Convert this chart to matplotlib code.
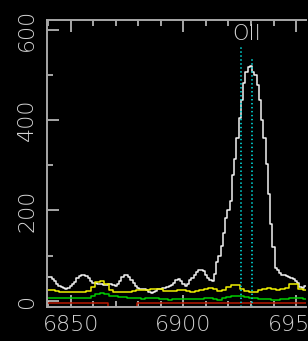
import numpy as np
import matplotlib
matplotlib.use("Agg")
import matplotlib.pyplot as plt
from matplotlib.ticker import MultipleLocator

# wavelength grids (Angstrom)
wave_fine = np.arange(6840, 6957, 1)
wave_coarse = np.arange(6840, 6957, 2)

# object spectrum (white)
flux = [
    53, 52, 49, 44, 38, 33, 30, 28, 27, 28,
    33, 38, 42, 50, 55, 58, 58, 55, 50, 44,
    40, 39, 38, 37, 36, 34, 35, 36, 36, 35,
    33, 36, 44, 52, 57, 56, 52, 46, 40, 33,
    28, 26, 25, 25, 24, 20, 18, 19, 21, 25,
    27, 28, 29, 30, 32, 35, 40, 45, 48, 43,
    38, 33, 38, 45, 50, 56, 63, 69, 69, 65,
    58, 50, 45, 43, 60, 85, 100, 122, 150, 184,
    200, 222, 278, 315, 360, 404, 444, 482, 507, 518,
    520, 507, 500, 478, 444, 400, 360, 304, 237, 171,
    118, 73, 67, 62, 58, 56, 54, 52, 50, 47,
    44, 40, 30, 29, 33, 33, 33,
]

# sky (yellow) and noise (green), 2 A steps
sky = [
    24, 23, 21, 20, 20, 20, 20, 20, 20, 21,
    30, 42, 44, 38, 24, 20, 20, 20, 20, 21,
    23, 24, 24, 26, 26, 25, 22, 21, 22, 24,
    24, 22, 20, 21, 24, 26, 29, 27, 22, 24,
    30, 35, 34, 27, 21, 20, 20, 23, 27, 28,
    26, 24, 26, 29, 36, 36, 27, 24, 23,
]
noise = [
    6, 6, 6, 6, 6, 6, 6, 6, 6, 6,
    10, 14, 16, 14, 11, 10, 9, 8, 7, 6,
    5, 4, 5, 5, 5, 4, 3, 2, 3, 4,
    4, 4, 4, 4, 4, 5, 5, 3, 2, 5,
    9, 11, 11, 10, 8, 7, 5, 4, 4, 3,
    2, 2, 3, 4, 5, 6, 5, 3, 3,
]

# bad-pixel mask (red)
mask_edges = [6839, 6866.5, 6879.5, 6956]
mask_levels = [-4, -300, -4, -4]

# [OII] doublet
line_waves = [6925.4, 6930.6]
line_tops = [567, 536]
line_name = "OII"

fg = "#d4d4d4"
fig = plt.figure(figsize=(3.08, 3.41), dpi=100, facecolor="black")
ax = fig.add_axes([47 / 308, 33.7 / 341, 259 / 308, 287.3 / 341], facecolor="black")

ax.plot(wave_fine, flux, color="#f2f2f2", lw=1.1, drawstyle="steps-mid")
ax.plot(wave_coarse, sky, color="#f0f000", lw=1.1, drawstyle="steps-mid")
ax.plot(wave_coarse, noise, color="#00cc00", lw=1.1, drawstyle="steps-mid")
ax.plot(mask_edges, mask_levels, color="#b81800", lw=1.1, drawstyle="steps-post")

for w, top in zip(line_waves, line_tops):
    ax.plot([w, w], [-15, top], color="#00c8c8", lw=1.3, linestyle=(0, (0.8, 1.4)))
ax.text(np.mean(line_waves), 590, line_name, color=fg, fontsize=15,
        ha="center", va="center", fontweight="light")

ax.set_xlim(6839.5, 6954.4)
ax.set_ylim(-14.6, 622)

ax.xaxis.set_major_locator(MultipleLocator(50))
ax.xaxis.set_minor_locator(MultipleLocator(10))
ax.yaxis.set_major_locator(MultipleLocator(200))
ax.yaxis.set_minor_locator(MultipleLocator(100))

ax.tick_params(which="both", direction="in", top=True, right=False,
               color=fg, width=1.1, labelcolor=fg, labelsize=16)
ax.tick_params(which="major", length=8.6)
ax.tick_params(which="minor", length=4.6)
ax.tick_params(axis="x", pad=5.5)
ax.tick_params(axis="y", pad=7, labelrotation=90)
for lab in ax.get_yticklabels():
    lab.set_va("center")
    lab.set_fontweight("light")
for lab in ax.get_xticklabels():
    lab.set_fontweight("light")

for side in ["left", "bottom", "top"]:
    ax.spines[side].set_color("#a8a8a8")
    ax.spines[side].set_linewidth(1.4)
ax.spines["right"].set_visible(False)

fig.savefig("out.png", dpi=100, facecolor="black")
